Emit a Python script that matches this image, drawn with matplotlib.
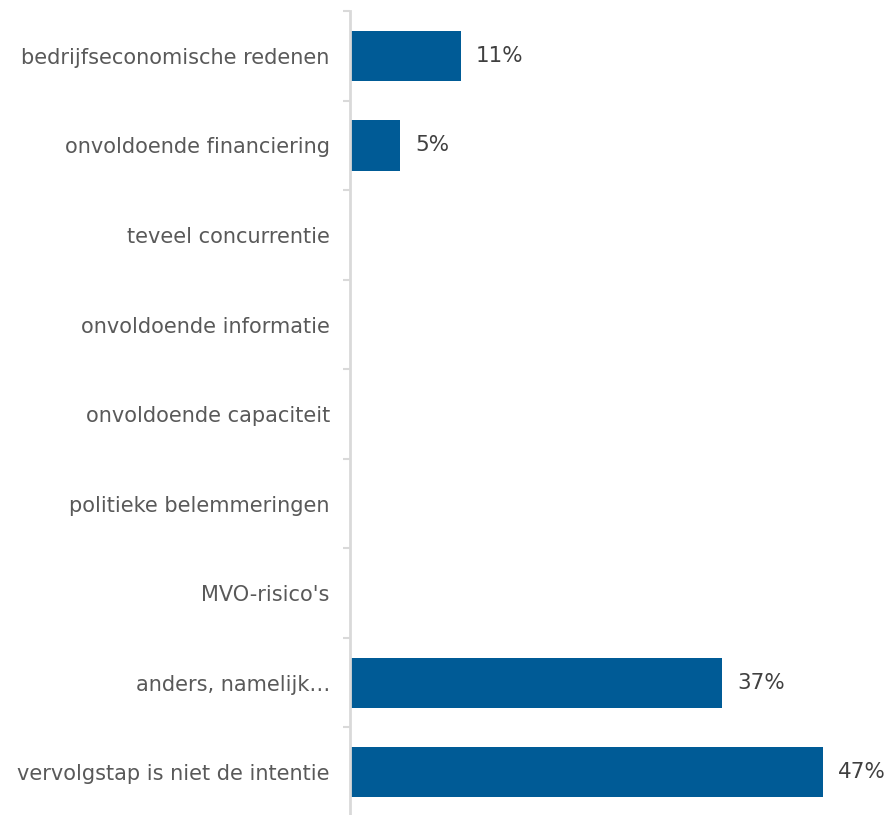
import matplotlib
matplotlib.use("Agg")
import matplotlib.pyplot as plt
import numpy as np

categories = [
    "bedrijfseconomische redenen",
    "onvoldoende financiering",
    "teveel concurrentie",
    "onvoldoende informatie",
    "onvoldoende capaciteit",
    "politieke belemmeringen",
    "MVO-risico's",
    "anders, namelijk…",
    "vervolgstap is niet de intentie",
]
values = [11, 5, 0, 0, 0, 0, 0, 37, 47]
value_labels = ["11%", "5%", "", "", "", "", "", "37%", "47%"]

plt.rcParams['font.family'] = ['DejaVu Sans']
fig = plt.figure(figsize=(8.91, 8.15), dpi=100)
ax = fig.add_axes([350/891, -2/815, 540/891, 814/815 - 0.0125 + 0.0025])

y = np.arange(len(categories))
bar_color = "#005B96"
ax.barh(y, values, height=0.56, color=bar_color)
for yi, v, lab in zip(y, values, value_labels):
    if lab:
        ax.text(v + 1.5, yi, lab, va="center", ha="left", fontsize=15.5, color="#404040")

ax.set_ylim(len(categories) - 0.5, -0.5)
ax.set_xlim(0, 53.7)
ax.set_yticks(y)
ax.set_yticklabels(categories, fontsize=15, color="#595959")
ax.tick_params(axis="y", length=0, pad=14.5)
ax.set_yticks(np.arange(-0.5, len(categories), 1), minor=True)
ax.tick_params(axis="y", which="minor", length=5, width=1.5, color="#d9d9d9")
ax.set_xticks([])
for s in ["top", "right", "bottom"]:
    ax.spines[s].set_visible(False)
ax.spines["left"].set_color("#d9d9d9")
ax.spines["left"].set_linewidth(2)

fig.savefig("out.png", dpi=100)
